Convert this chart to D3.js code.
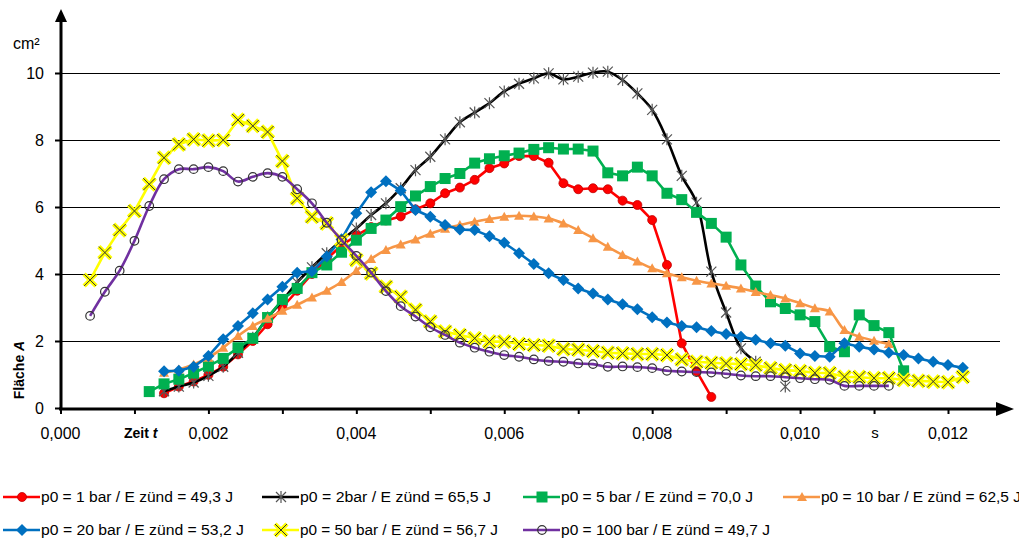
<!DOCTYPE html>
<html lang="de">
<head>
<meta charset="UTF-8">
<title>Fläche A über Zeit t</title>
<script src="https://d3js.org/d3.v7.min.js"></script>
<style>
    body { margin: 0; background: #fff; }
    svg { display: block; font-family: "Liberation Sans", Arial, sans-serif; }
</style>
</head>
<body>
<div id="chart"></div>
<script>
// time steps (s), shared by all series
const zeit = [0.0004, 0.0006, 0.0008, 0.0010, 0.0012, 0.0014, 0.0016, 0.0018, 0.0020, 0.0022,
              0.0024, 0.0026, 0.0028, 0.0030, 0.0032, 0.0034, 0.0036, 0.0038, 0.0040, 0.0042,
              0.0044, 0.0046, 0.0048, 0.0050, 0.0052, 0.0054, 0.0056, 0.0058, 0.0060, 0.0062,
              0.0064, 0.0066, 0.0068, 0.0070, 0.0072, 0.0074, 0.0076, 0.0078, 0.0080, 0.0082,
              0.0084, 0.0086, 0.0088, 0.0090, 0.0092, 0.0094, 0.0096, 0.0098, 0.0100, 0.0102,
              0.0104, 0.0106, 0.0108, 0.0110, 0.0112, 0.0114, 0.0116, 0.0118, 0.0120, 0.0122];

// Fläche A (cm²), aligned with zeit, null = no value
const p1 = [null, null, null, null, null, 0.44, 0.64, 0.79, 0.99, 1.23,
            1.6, 2.0, 2.5, 3.0, 3.5, 4.0, 4.45, 4.85, 5.15, 5.4,
            5.6, 5.72, 5.93, 6.11, 6.41, 6.58, 6.81, 7.16, 7.30, 7.52,
            7.52, 7.32, 6.71, 6.53, 6.56, 6.53, 6.19, 6.06, 5.61, 4.27,
            1.93, 1.1, 0.33];
const p2 = [null, null, null, null, null, 0.5, 0.64, 0.76, 0.96, 1.23,
            1.65, 2.1, 2.7, 3.2, 3.75, 4.2, 4.62, 5.01, 5.36, 5.76,
            6.11, 6.56, 7.10, 7.50, 8.02, 8.53, 8.82, 9.10, 9.45, 9.68,
            9.84, 9.99, 9.81, 9.89, 10.01, 10.04, 9.79, 9.39, 8.90, 8.02,
            6.93, 6.13, 4.07, 2.85, 1.78, 1.38, null, 0.64];
const p5 = [null, null, null, null, 0.49, 0.72, 0.86, 1.04, 1.25, 1.48,
            1.80, 2.08, 2.70, 3.24, 3.57, 4.04, 4.27, 4.65, 5.01, 5.36,
            5.61, 6.01, 6.33, 6.61, 6.85, 7.00, 7.31, 7.44, 7.53, 7.61,
            7.72, 7.77, 7.73, 7.73, 7.67, 7.02, 6.93, 7.19, 6.93, 6.41,
            6.22, 5.84, 5.51, 5.10, 4.27, 3.64, 3.17, 2.97, 2.78, 2.58,
            1.83, 1.68, 2.78, 2.46, 2.25, 1.11];
const p10 = [null, null, null, null, null, 1.05, 1.15, 1.3, 1.5, 1.8,
             2.15, 2.45, 2.67, 2.9, 3.08, 3.3, 3.5, 3.76, 4.1, 4.45,
             4.72, 4.88, 5.03, 5.2, 5.35, 5.46, 5.56, 5.64, 5.71, 5.74,
             5.72, 5.66, 5.51, 5.31, 5.07, 4.81, 4.57, 4.37, 4.17, 4.02,
             3.90, 3.80, 3.72, 3.65, 3.57, 3.46, 3.37, 3.27, 3.13, 2.98,
             2.88, 2.33, 2.13, 2.01, 1.91];
const p20 = [null, null, null, null, null, 1.10, 1.11, 1.23, 1.55, 2.05,
             2.45, 2.83, 3.24, 3.62, 4.04, 4.08, 4.52, 5.04, 5.81, 6.44,
             6.77, 6.49, 5.91, 5.71, 5.46, 5.33, 5.31, 5.13, 4.93, 4.62,
             4.30, 4.02, 3.82, 3.57, 3.42, 3.24, 3.10, 2.95, 2.71, 2.55,
             2.45, 2.41, 2.30, 2.21, 2.13, 2.04, 1.93, 1.86, 1.63, 1.55,
             1.53, 1.93, 1.83, 1.75, 1.65, 1.58, 1.48, 1.38, 1.28, 1.20];
const p50 = [3.82, 4.64, 5.31, 5.88, 6.68, 7.47, 7.87, 8.02, 7.98, 8.0,
             8.60, 8.42, 8.24, 7.37, 6.26, 5.71, 5.51, 5.01, 4.42, 4.02,
             3.62, 3.32, 2.93, 2.58, 2.28, 2.18, 2.08, 1.98, 1.98, 1.91,
             1.88, 1.86, 1.76, 1.74, 1.70, 1.65, 1.63, 1.61, 1.61, 1.58,
             1.45, 1.38, 1.35, 1.33, 1.31, 1.28, 1.19, 1.13, 1.10, 1.05,
             1.04, 0.93, 0.92, 0.89, 0.89, 0.84, 0.81, 0.79, 0.77, 0.93];
const p100 = [2.75, 3.47, 4.10, 4.99, 6.03, 6.83, 7.13, 7.13, 7.19, 7.07,
              6.76, 6.90, 7.01, 6.90, 6.53, 6.11, 5.53, 5.01, 4.54, 4.04,
              3.49, 3.04, 2.73, 2.41, 2.18, 1.95, 1.80, 1.68, 1.58, 1.53,
              1.45, 1.40, 1.38, 1.33, 1.31, 1.23, 1.24, 1.22, 1.19, 1.11,
              1.09, 1.07, 1.06, 1.02, 0.97, 0.95, 0.95, 0.92, 0.89, 0.86,
              0.84, 0.66, 0.66, 0.66, 0.66];

const legendLabels = ["p0 = 1 bar / E zünd = 49,3 J", "p0  = 2bar / E zünd = 65,5 J",
                      "p0 = 5 bar / E zünd = 70,0 J", "p0 = 10 bar / E zünd = 62,5 J",
                      "p0 = 20 bar / E zünd = 53,2 J", "p0 = 50 bar / E zünd = 56,7 J",
                      "p0 = 100 bar / E zünd = 49,7 J"];
const xTicks = [0, 0.002, 0.004, 0.006, 0.008, 0.010, 0.012];
const yTicks = [0, 2, 4, 6, 8, 10];

const series = [
    { values: p1,   color: "#FF0000", marker: "circle",   smooth: false },
    { values: p2,   color: "#000000", marker: "star",     smooth: true  },
    { values: p5,   color: "#00B050", marker: "square",   smooth: false },
    { values: p10,  color: "#F79646", marker: "triangle", smooth: true  },
    { values: p20,  color: "#0070C0", marker: "diamond",  smooth: false },
    { values: p50,  color: "#FFFF00", marker: "cross",    smooth: false },
    { values: p100, color: "#7030A0", marker: "ring",     smooth: true  }
];

const W = 1019, H = 538;
const svg = d3.select("#chart").append("svg").attr("width", W).attr("height", H);

const x = d3.scaleLinear().domain([0, 0.012]).range([60.5, 948]);
const y = d3.scaleLinear().domain([0, 10]).range([408, 73]);
const fmt = d => d3.format(".3f")(d).replace(".", ",");

// gridlines
svg.append("g").selectAll("line").data(yTicks.filter(d => d > 0)).join("line")
    .attr("x1", 61).attr("x2", 1000)
    .attr("y1", d => Math.round(y(d)) + 0.5).attr("y2", d => Math.round(y(d)) + 0.5)
    .attr("stroke", "#000").attr("stroke-width", 1)
    .attr("shape-rendering", "crispEdges");

// x axis
const xAxis = svg.append("g").attr("transform", "translate(0,409)")
    .call(d3.axisBottom(x).tickValues(d3.range(13).map(i => i / 1000)).tickSize(5).tickFormat(""));
xAxis.select(".domain").remove();
xAxis.selectAll(".tick line").attr("stroke", "#000").attr("stroke-width", 2);
svg.append("line").attr("x1", 59).attr("x2", 998).attr("y1", 409).attr("y2", 409)
    .attr("stroke", "#000").attr("stroke-width", 3);
svg.append("path").attr("d", "M996,402 L1014,409 L996,416 Z").attr("fill", "#000");
svg.append("g").selectAll("text").data(xTicks).join("text")
    .attr("x", d => x(d)).attr("y", 439).attr("text-anchor", "middle")
    .attr("font-size", 16).text(fmt);

// y axis
const yAxis = svg.append("g").attr("transform", "translate(61,0)")
    .call(d3.axisLeft(y).tickValues(yTicks).tickSize(6).tickFormat(""));
yAxis.select(".domain").remove();
yAxis.selectAll(".tick line").attr("stroke", "#000").attr("stroke-width", 2);
svg.append("line").attr("x1", 61).attr("x2", 61).attr("y1", 410).attr("y2", 20)
    .attr("stroke", "#000").attr("stroke-width", 3);
svg.append("path").attr("d", "M55,22 L61,9 L67,22 Z").attr("fill", "#000");
svg.append("g").selectAll("text").data(yTicks).join("text")
    .attr("x", 44).attr("y", d => y(d) + 6).attr("text-anchor", "end")
    .attr("font-size", 16).text(d => d);

// axis titles
svg.append("text").attr("x", 13).attr("y", 49).attr("font-size", 16).text("cm²");
const xt = svg.append("text").attr("x", 124).attr("y", 438).attr("font-size", 14).attr("font-weight", "bold");
xt.append("tspan").text("Zeit ");
xt.append("tspan").attr("font-style", "italic").text("t");
svg.append("text").attr("x", 875).attr("y", 438).attr("text-anchor", "middle").attr("font-size", 15).text("s");
const yt = svg.append("text").attr("transform", "translate(24,370) rotate(-90)")
    .attr("text-anchor", "middle").attr("font-size", 14).attr("font-weight", "bold");
yt.append("tspan").text("Fläche ");
yt.append("tspan").attr("font-style", "italic").text("A");

// markers
function drawMarker(g, type, color) {
    if (type === "circle") {
        g.append("circle").attr("r", 4.5).attr("fill", color).attr("stroke", "#C00000").attr("stroke-width", 0.8);
    } else if (type === "square") {
        g.append("rect").attr("x", -5.5).attr("y", -5.5).attr("width", 11).attr("height", 11).attr("fill", color);
    } else if (type === "diamond") {
        g.append("path").attr("d", "M0,-6 L6,0 L0,6 L-6,0 Z").attr("fill", color);
    } else if (type === "triangle") {
        g.append("path").attr("d", "M0,-5 L5,4 L-5,4 Z").attr("fill", color);
    } else if (type === "cross") {
        g.append("path").attr("d", "M-6,-6 L6,6 M-6,6 L6,-6").attr("stroke", color).attr("stroke-width", 4.5);
        g.append("path").attr("d", "M-6,-6 L6,6 M-6,6 L6,-6").attr("stroke", "#333").attr("stroke-width", 1);
    } else if (type === "star") {
        g.append("path").attr("d", "M-5,-5 L5,5 M-5,5 L5,-5 M0,-6 L0,6").attr("stroke", "#555").attr("stroke-width", 1.2);
    } else if (type === "ring") {
        g.append("circle").attr("r", 4.3).attr("fill", "none").attr("stroke", "#333").attr("stroke-width", 1.2);
    }
}

const plot = svg.append("g");
series.forEach(s => {
    const pts = s.values.map((v, i) => ({ t: zeit[i], v: v }));
    const line = d3.line()
        .defined(d => d.v != null)
        .x(d => x(d.t)).y(d => y(d.v))
        .curve(s.smooth ? d3.curveCatmullRom.alpha(0.5) : d3.curveLinear);
    plot.append("path").datum(pts).attr("d", line)
        .attr("fill", "none").attr("stroke", s.color).attr("stroke-width", 2.6)
        .attr("stroke-linejoin", "round");
    plot.append("g").selectAll("g").data(pts.filter(d => d.v != null)).join("g")
        .attr("transform", d => `translate(${x(d.t)},${y(d.v)})`)
        .each(function () { drawMarker(d3.select(this), s.marker, s.color); });
});

// legend
const legendPos = [[3, 497], [262, 497], [523, 497], [783, 497], [3, 530], [262, 530], [523, 530]];
const legendWidth = [192, 191, 192, 200, 203, 198, 209];
series.forEach((s, i) => {
    const [lx, ly] = legendPos[i];
    const g = svg.append("g").attr("transform", `translate(${lx},${ly})`);
    g.append("line").attr("x1", 0).attr("x2", 37).attr("stroke", s.color).attr("stroke-width", 2.6);
    drawMarker(g.append("g").attr("transform", "translate(19,0)"), s.marker, s.color);
    g.append("text").attr("x", 38).attr("y", 5).attr("font-size", 14)
        .attr("textLength", legendWidth[i]).attr("lengthAdjust", "spacingAndGlyphs")
        .text(legendLabels[i]);
});
</script>
</body>
</html>
